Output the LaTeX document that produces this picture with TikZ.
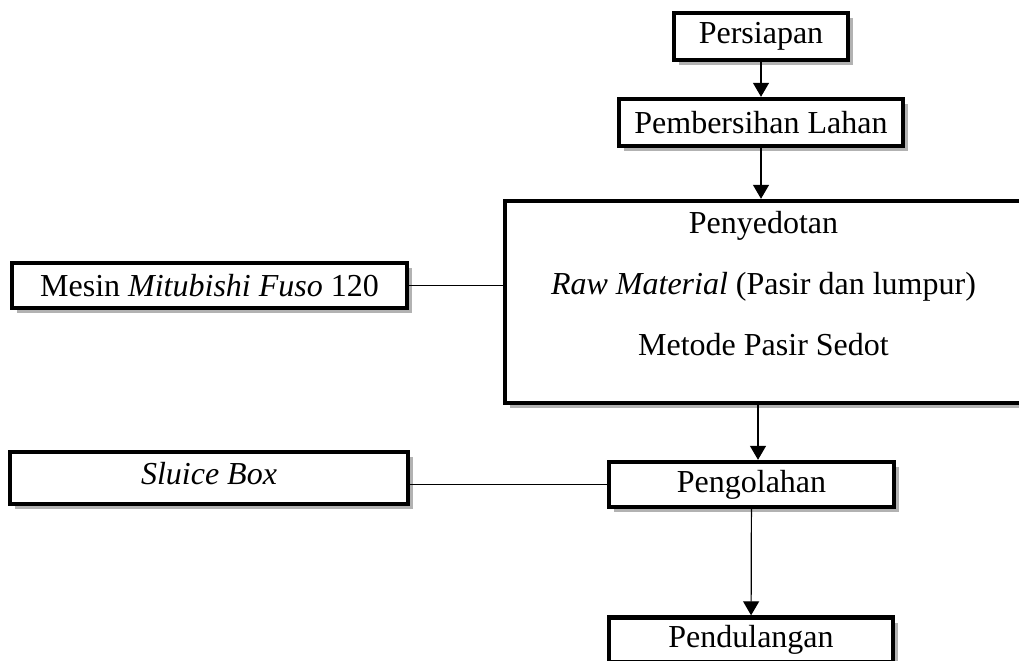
\documentclass[tikz,border=0pt]{standalone}
\usepackage{fontspec}
\setmainfont{Liberation Serif}
\usetikzlibrary{arrows.meta,shadows}

\tikzset{
    box/.style={draw,line width=2.2pt,fill=white,inner sep=2pt,
        font=\fontsize{16}{30.5}\selectfont,
        drop shadow={shadow xshift=2.5pt,shadow yshift=-2.5pt,fill=black!50,opacity=.6}},
    arr/.style={line width=0.6pt,-{Triangle[width=8pt,length=7pt]}},
    con/.style={line width=0.6pt}
}

\begin{document}
\begin{tikzpicture}[x=0.5pt,y=-0.5pt]
\useasboundingbox (0,0) rectangle (1019,660);
\fill[white] (0,0) rectangle (1019,660);
\clip (0,0) rectangle (1019,660);

\node[box,minimum width=87pt,minimum height=23.5pt] (persiapan) at (761,36.5) {Persiapan};
\node[box,minimum width=142pt,minimum height=23.5pt] (pembersihan) at (761,122.5) {Pembersihan Lahan};
\node[box,minimum width=258.5pt,minimum height=101pt,align=center,text depth=19pt] (sedot) at (763.5,302)
    {Penyedotan\\\textit{Raw Material} (Pasir dan lumpur)\\Metode Pasir Sedot};
\node[box,minimum width=197.5pt,minimum height=22.5pt] (mesin) at (209.5,285.5) {Mesin \textit{Mitubishi Fuso} 120};
\node[box,minimum width=199pt,minimum height=26pt,text depth=4.5pt] (sluice) at (209,478) {\textit{Sluice Box}};
\node[box,minimum width=142.5pt,minimum height=22.5pt] (pengolahan) at (751.5,484.5) {Pengolahan};
\node[box,minimum width=142pt,minimum height=22.5pt] (pendulangan) at (751,640) {Pendulangan};

\coordinate (sedotout) at ([xshift=-2.75pt]sedot.south);

\draw[arr] (persiapan) -- (pembersihan);
\draw[arr] (pembersihan.south) -- (pembersihan.south |- sedot.north);
\draw[arr] (sedotout) -- (sedotout |- pengolahan.north);
\draw[arr] (pengolahan) -- (pendulangan);
\draw[con] (mesin.east) -- (mesin.east -| sedot.west);
\draw[con] (pengolahan.west) -- (pengolahan.west -| sluice.east);
\end{tikzpicture}
\end{document}
